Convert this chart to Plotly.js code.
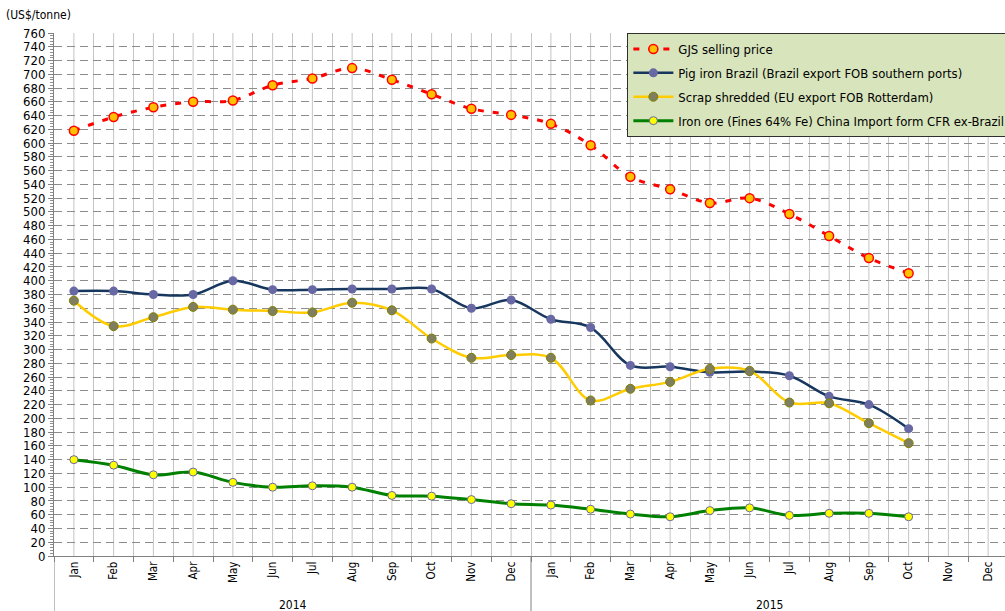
<!DOCTYPE html>
<html>
<head>
<meta charset="utf-8">
<script src="https://cdn.plot.ly/plotly-3.0.1.min.js"></script>
<style>
html,body{margin:0;padding:0;overflow:hidden;background:#fff;}
#chart{width:1008px;height:611px;}
</style>
</head>
<body>
<div id="chart"></div>
<script>
const months = ['Jan','Feb','Mar','Apr','May','Jun','Jul','Aug','Sep','Oct','Nov','Dec'];
const years = ['2014','2015'];
const periods = years.flatMap(y => months.map(m => m + ' ' + y));
const monthLabels = years.flatMap(() => months);

const gjsPrice = [618,638,652,660,662,684,694,709,692,671,650,641,628,597,551,533,513,520,497,465,433,411];
const pigIron  = [385,385,380,380,400,387,387,388,388,388,360,372,344,332,277,275,267,268,262,232,220,185];
const scrap    = [371,334,347,362,358,356,354,368,357,316,288,292,288,226,243,253,272,269,223,222,193,164];
const ironOre  = [140,132,118,122,107,100,102,100,88,87,82,76,74,68,61,57,66,70,59,62,62,57];

const seriesNames = [
  'GJS selling price',
  'Pig iron Brazil (Brazil export FOB southern ports)',
  'Scrap shredded (EU export FOB Rotterdam)',
  'Iron ore (Fines 64% Fe) China Import form CFR ex-Brazil'
];

const FONT = 'DejaVu Sans Condensed, Liberation Sans, Arial, sans-serif';

const traces = [
  {
    name: seriesNames[0], x: periods.slice(0, gjsPrice.length), y: gjsPrice,
    mode: 'lines+markers', legendgroup: 'a',
    line: {color: '#ff0000', width: 3, dash: '6px,9px', shape: 'spline', smoothing: 1},
    marker: {size: 9, color: '#ffc000', line: {color: '#ff0000', width: 1.5}}
  },
  {
    name: seriesNames[1], x: periods.slice(0, pigIron.length), y: pigIron,
    mode: 'lines+markers', legendgroup: 'b',
    line: {color: '#17375e', width: 2.5, shape: 'spline', smoothing: 1},
    marker: {size: 9, color: '#6868a4'}
  },
  {
    name: seriesNames[2], x: periods.slice(0, scrap.length), y: scrap,
    mode: 'lines+markers', legendgroup: 'c',
    line: {color: '#ffcc00', width: 2.5, shape: 'spline', smoothing: 1},
    marker: {size: 9, color: '#7f7f60', line: {color: '#808000', width: 1}}
  },
  {
    name: seriesNames[3], x: periods.slice(0, ironOre.length), y: ironOre,
    mode: 'lines+markers', legendgroup: 'd',
    line: {color: '#008000', width: 3, shape: 'spline', smoothing: 1},
    marker: {size: 8, color: '#ffff00', line: {color: '#6868a4', width: 1}}
  }
];

const shapes = [];
periods.forEach((p, i) => {
  shapes.push({type: 'line', xref: 'x', yref: 'paper', x0: i, x1: i, y0: 0, y1: 1,
    line: {color: '#c4c4c4', width: 1}, layer: 'below'});
});
// left axis extension and year divider below the axis
shapes.push({type: 'line', xref: 'x', yref: 'paper', x0: -0.5, x1: -0.5, y0: 0, y1: -0.11,
  line: {color: '#808080', width: 1}});
shapes.push({type: 'line', xref: 'x', yref: 'paper', x0: months.length - 0.5, x1: months.length - 0.5, y0: 0, y1: -0.11,
  line: {color: '#808080', width: 1}});

const annotations = [
  {text: '(US$/tonne)', xref: 'paper', yref: 'paper', x: -0.052, y: 1.034, xanchor: 'left', yanchor: 'middle',
   showarrow: false, font: {family: FONT, size: 12, color: '#000'}}
];
years.forEach((y, k) => {
  annotations.push({text: y, xref: 'x', yref: 'paper', x: k * months.length + (months.length - 1) / 2,
    y: -0.094, xanchor: 'center', yanchor: 'middle', showarrow: false,
    font: {family: FONT, size: 12, color: '#000'}});
});

const layout = {
  width: 1008, height: 611,
  margin: {l: 54, r: 0, t: 33, b: 55, autoexpand: false},
  paper_bgcolor: '#ffffff', plot_bgcolor: '#ffffff',
  font: {family: FONT, size: 12, color: '#000'},
  showlegend: true,
  legend: {
    x: 0.601, y: 1, xanchor: 'left', yanchor: 'top',
    bgcolor: '#d8e4bc', bordercolor: '#303030', borderwidth: 1,
    font: {family: FONT, size: 13, color: '#000'},
    traceorder: 'grouped', tracegroupgap: 4, itemwidth: 40
  },
  xaxis: {
    type: 'category', categoryorder: 'array', categoryarray: periods,
    range: [-0.5, periods.length - 0.5],
    tickmode: 'array', tickvals: periods, ticktext: monthLabels,
    tickson: 'boundaries', ticks: 'outside', ticklen: 5, tickcolor: '#808080',
    tickangle: -90, tickfont: {family: FONT, size: 11.5, color: '#000'},
    showgrid: true, gridcolor: '#c4c4c4', gridwidth: 1,
    showline: true, linecolor: '#808080', linewidth: 1,
    zeroline: false, fixedrange: true
  },
  yaxis: {
    range: [0, 760], dtick: 20, tick0: 0,
    ticks: 'outside', ticklen: 5, tickcolor: '#808080',
    minor: {dtick: 4, ticks: 'outside', ticklen: 3, tickcolor: '#909090', showgrid: false},
    tickfont: {family: FONT, size: 13, color: '#000'},
    showgrid: true, gridcolor: '#8c8c8c', gridwidth: 1, griddash: '8px,5px',
    showline: true, linecolor: '#808080', linewidth: 1,
    zeroline: false, fixedrange: true
  },
  shapes: shapes,
  annotations: annotations
};

Plotly.newPlot('chart', traces, layout, {displayModeBar: false, staticPlot: true});
</script>
</body>
</html>
